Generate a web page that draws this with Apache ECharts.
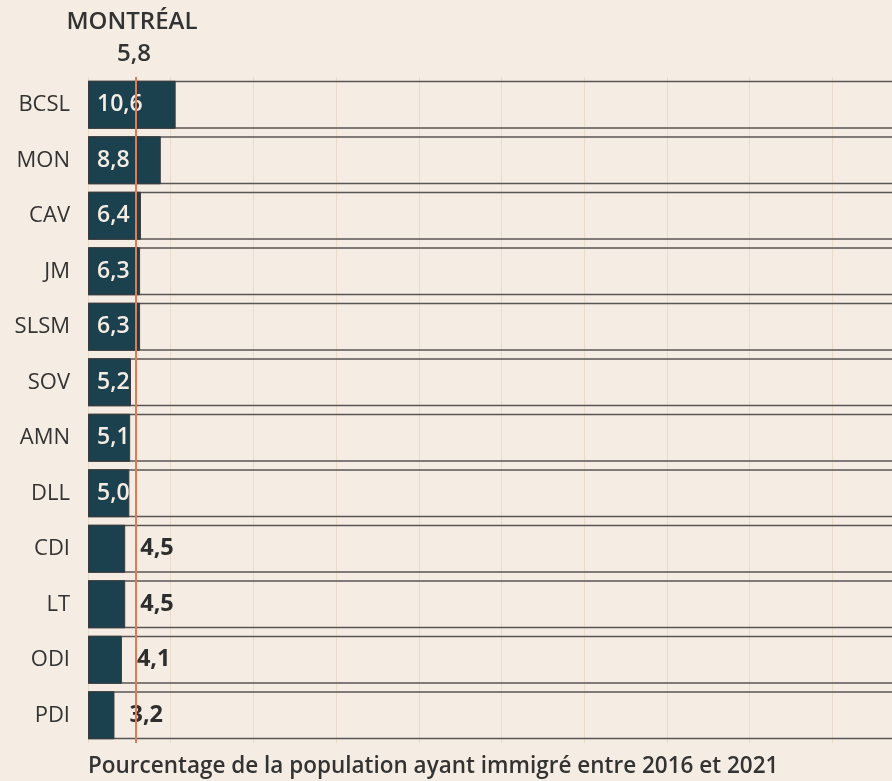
<!DOCTYPE html>
<html lang="fr">

<head>
    <meta charset="UTF-8">
    <title>Immigration récente</title>
    <style>
        html, body { margin: 0; padding: 0; background: #f5ede3; }
        #main { width: 892px; height: 781px; }
    </style>
    <script src="https://cdn.jsdelivr.net/npm/echarts@6/dist/echarts.min.js"></script>
</head>

<body>
    <div id="main"></div>

    <script>
        // données
        var categories = ['BCSL', 'MON', 'CAV', 'JM', 'SLSM', 'SOV', 'AMN', 'DLL', 'CDI', 'LT', 'ODI', 'PDI'];
        var values = [10.6, 8.8, 6.4, 6.3, 6.3, 5.2, 5.1, 5.0, 4.5, 4.5, 4.1, 3.2];
        var montreal = 5.8;
        var axisMax = 100;

        var font = '"Open Sans", "Noto Sans", sans-serif';
        var fmt = function (v) { return v.toFixed(1).replace('.', ','); };

        var chart = echarts.init(document.getElementById('main'));

        // les barres >= 5 ont l'étiquette à l'intérieur
        var barData = values.map(function (v) {
            var inside = v >= 5;
            return {
                value: v,
                label: inside ? {
                    position: 'insideLeft', distance: 9, color: '#f5ede3', fontWeight: 600, fontSize: 23
                } : {
                    position: 'right', distance: 15, color: '#2e2e2e', fontWeight: 'bold', fontSize: 23.5
                }
            };
        });

        var option = {
            backgroundColor: '#f5ede3',
            animation: false,
            // l'axe dépasse le bord droit, comme dans l'original
            grid: { left: 88, right: -23, top: 77, bottom: 38, outerBoundsMode: 'none', containLabel: false },
            xAxis: {
                type: 'value',
                min: 0,
                max: axisMax,
                interval: 10,
                axisLabel: { show: false },
                axisLine: { show: false },
                axisTick: { show: false },
                splitLine: { lineStyle: { color: '#eadcca', width: 1 } }
            },
            yAxis: {
                type: 'category',
                data: categories,
                inverse: true,
                axisLine: { show: false },
                axisTick: { show: false },
                axisLabel: { color: '#333', fontSize: 22, fontFamily: font, margin: 18 }
            },
            series: [
                {
                    // piste de fond
                    type: 'bar',
                    data: categories.map(function () { return axisMax; }),
                    barWidth: 48,
                    silent: true,
                    itemStyle: { color: 'rgba(0,0,0,0)', borderColor: '#5a5654', borderWidth: 1.5 }
                },
                {
                    type: 'bar',
                    data: barData,
                    barWidth: 48,
                    barGap: '-100%',
                    itemStyle: { color: '#1b414f', borderColor: '#3a3a3a', borderWidth: 1 },
                    label: {
                        show: true,
                        fontFamily: font,
                        formatter: function (p) { return fmt(p.value); }
                    },
                    markLine: {
                        silent: true,
                        symbol: 'none',
                        label: { show: false },
                        lineStyle: { color: '#e07a52', width: 2, type: 'solid' },
                        data: [{ xAxis: montreal }]
                    }
                }
            ]
        };

        chart.setOption(option);

        // textes d'annotation
        var mx = chart.convertToPixel({ xAxisIndex: 0 }, montreal);
        chart.setOption({
            graphic: [
                {
                    type: 'text', x: mx - 4, y: 22,
                    style: { text: 'MONTRÉAL', fill: '#333', font: '600 24px ' + font, align: 'center', verticalAlign: 'middle' }
                },
                {
                    type: 'text', x: mx - 2, y: 54,
                    style: { text: fmt(montreal), fill: '#333', font: '600 24px ' + font, align: 'center', verticalAlign: 'middle' }
                },
                {
                    type: 'text', x: 88, y: 767,
                    style: { text: 'Pourcentage de la population ayant immigré entre 2016 et 2021', fill: '#333', font: '600 22.5px ' + font, verticalAlign: 'middle' }
                }
            ]
        });
    </script>
</body>

</html>
